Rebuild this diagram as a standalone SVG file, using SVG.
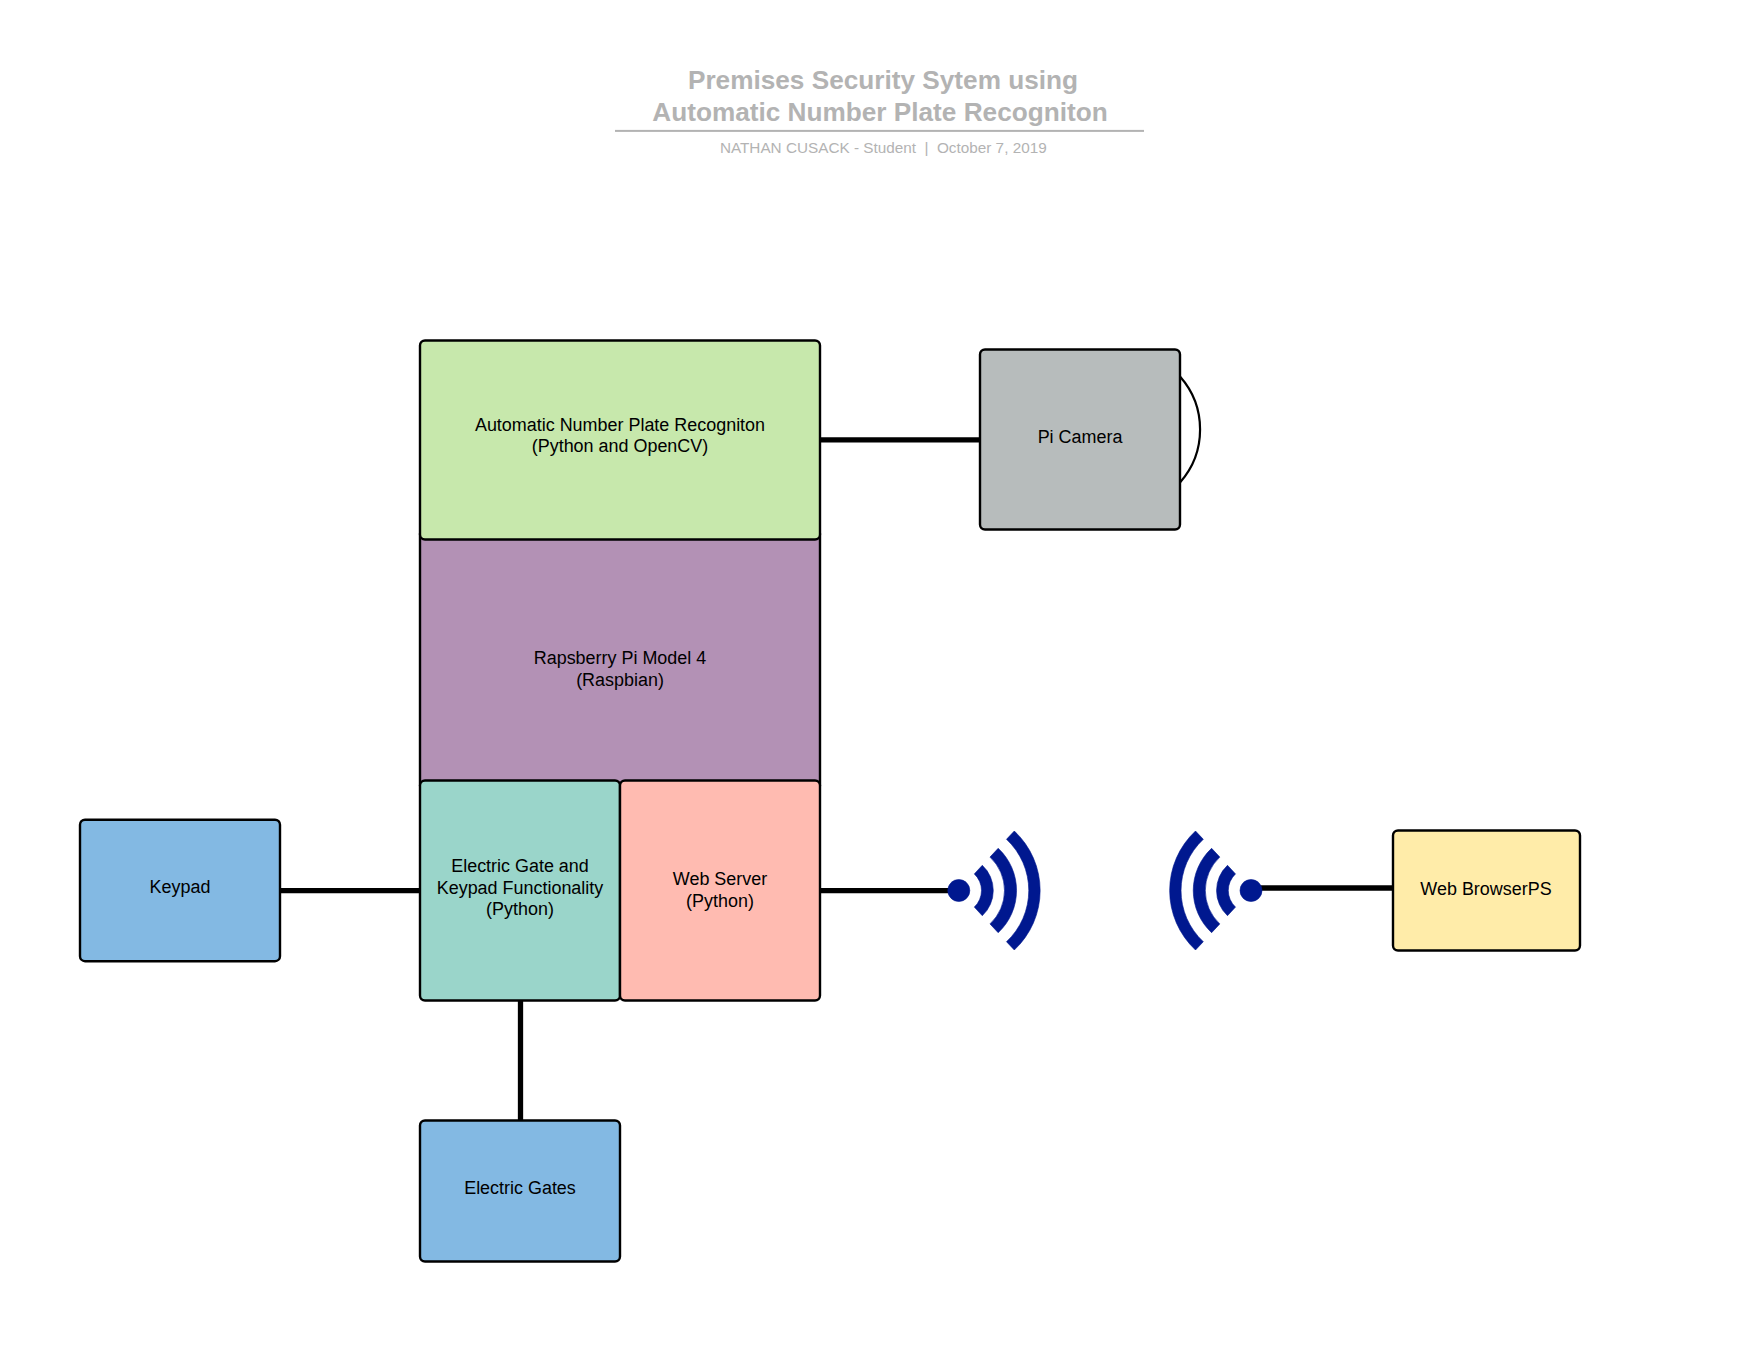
<svg xmlns="http://www.w3.org/2000/svg" width="1760" height="1360" viewBox="0 0 1760 1360">
<style>
text{font-family:"Liberation Sans",Arial,sans-serif}
.b{stroke:#000;stroke-width:2.4}
.l{fill:#000;font-size:17.95px;text-anchor:middle}
.c{stroke:#000;stroke-width:5.300;fill:none}
.w{fill:#00188f;stroke:#00188f;stroke-width:.6}
.t{fill:#b3b3b3;font-size:26.2px;font-weight:bold;text-anchor:middle}
.s{fill:#b3b3b3;font-size:15.3px;text-anchor:middle;white-space:pre}
</style>
<defs>
<g id="wifi" class="w">
<circle cx="0" cy="0" r="11"/>
<path d="M15.5 -16.6A22.7 22.7 0 0 1 15.5 16.6L23.5 25.2A34.4 34.4 0 0 0 23.5 -25.2Z"/>
<path d="M31.2 -33.4A45.7 45.7 0 0 1 31.2 33.4L39.4 42.2A57.7 57.7 0 0 0 39.4 -42.2Z"/>
<path d="M47.7 -51.2A70 70 0 0 1 47.7 51.2L55.5 59.5A81.4 81.4 0 0 0 55.5 -59.5Z"/>
</g>
</defs>
<g id="title">
<text class="t" x="883" y="89">Premises Security Sytem using</text>
<text class="t" x="880" y="121">Automatic Number Plate Recogniton</text>
<rect x="615" y="129.9" width="529" height="2" fill="#b3b3b3"/>
<text class="s" x="883.300" y="153">NATHAN CUSACK - Student  |  October 7, 2019</text>
</g>
<g id="connectors">
<path class="c" d="M820 439.800H980"/>
<path class="c" d="M280 890.700H420"/>
<path class="c" d="M820 890.700H950"/>
<path class="c" d="M520.500 1000V1120"/>
<path class="c" d="M1255 888H1393"/>
</g>
<g id="rpi"><rect class="b" x="420" y="530" width="400" height="260.500" rx="5" fill="#b391b5"/><text class="l" x="620" y="664">Rapsberry Pi Model 4</text><text class="l" x="620" y="685.500">(Raspbian)</text></g>
<g id="anpr"><rect class="b" x="420" y="340.500" width="400" height="199" rx="5" fill="#c7e8ac"/><text class="l" x="620" y="430.500">Automatic Number Plate Recogniton</text><text class="l" x="620" y="452">(Python and OpenCV)</text></g>
<g id="camera"><path d="M1180 376.500A80 80 0 0 1 1180 482.500" fill="none" stroke="#000" stroke-width="2.200"/><rect class="b" x="980" y="349.500" width="200" height="180" rx="5" fill="#b7bcbc"/><text class="l" x="1080" y="443">Pi Camera</text></g>
<g id="gate-sw"><rect class="b" x="420" y="780.500" width="200" height="220" rx="5" fill="#9ad5ca"/><text class="l" x="520" y="872.400">Electric Gate and</text><text class="l" x="520" y="893.900">Keypad Functionality</text><text class="l" x="520" y="915.300">(Python)</text></g>
<g id="web-server"><rect class="b" x="620" y="780.500" width="200" height="220" rx="5" fill="#ffbbb1"/><text class="l" x="720" y="885">Web Server</text><text class="l" x="720" y="906.500">(Python)</text></g>
<g id="keypad"><rect class="b" x="80" y="819.700" width="200" height="141.500" rx="5" fill="#83b9e3"/><text class="l" x="180" y="892.500">Keypad</text></g>
<g id="gates"><rect class="b" x="420" y="1120.500" width="200" height="141" rx="5" fill="#83b9e3"/><text class="l" x="520" y="1193.500">Electric Gates</text></g>
<g id="browser"><rect class="b" x="1393" y="830.500" width="187" height="120" rx="5" fill="#ffeca9"/><text class="l" x="1486" y="894.500">Web BrowserPS</text></g>
<use id="wifi-left" href="#wifi" x="958.800" y="890.500"/>
<use id="wifi-right" href="#wifi" transform="translate(1251 890.500) scale(-1 1)"/>
</svg>
